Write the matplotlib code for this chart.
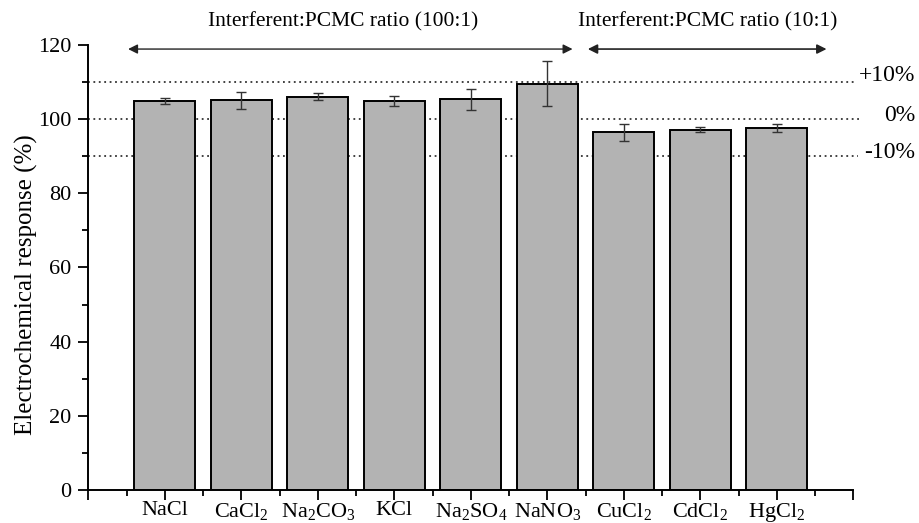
import matplotlib
matplotlib.use("Agg")
import matplotlib.pyplot as plt
import numpy as np
from matplotlib.ticker import FixedLocator, MultipleLocator

plt.rcParams['font.family'] = ['Liberation Serif', 'DejaVu Serif']
plt.rcParams['mathtext.fontset'] = 'custom'
plt.rcParams['mathtext.rm'] = 'Liberation Serif'
plt.rcParams['mathtext.it'] = 'Liberation Serif:italic'

categories = ['NaCl', r'CaCl$_\mathrm{2}$', r'Na$_\mathrm{2}$CO$_\mathrm{3}$', 'KCl',
              r'Na$_\mathrm{2}$SO$_\mathrm{4}$', r'NaNO$_\mathrm{3}$', r'CuCl$_\mathrm{2}$',
              r'CdCl$_\mathrm{2}$', r'HgCl$_\mathrm{2}$']
values = [104.9, 105.1, 106.1, 104.9, 105.3, 109.6, 96.4, 97.2, 97.7]
errors = [0.7, 2.3, 0.85, 1.35, 2.9, 6.0, 2.3, 0.7, 1.1]
ref_levels = [110, 100, 90]
ref_labels = ['+10%', '0%', '-10%']
group_labels = ['Interferent:PCMC ratio (100:1)', 'Interferent:PCMC ratio (10:1)']

fig = plt.figure(figsize=(9.19, 5.23), dpi=100)
ax = fig.add_axes([0.0961, 0.0631, 0.8324, 0.8509])

x = np.arange(len(categories))
ax.bar(x, values, width=0.8, color='#b3b3b3', edgecolor='black', linewidth=1.4, zorder=2)
ax.errorbar(x, values, yerr=errors, fmt='none', ecolor='#333333', elinewidth=1.0,
            capsize=3.5, capthick=1.0, zorder=3)

ax.set_xlim(-1, 9)
ax.set_ylim(0, 120)

# dotted reference lines
line_ends = [9.02, 9.1, 9.06]
label_y_off = [1.9, 1.1, 0.9]
for lvl, lab, xe, dy in zip(ref_levels, ref_labels, line_ends, label_y_off):
    ax.plot([-1, xe], [lvl, lvl], linestyle=(0, (1.0, 2.0)), color='#333333',
            linewidth=1.3, clip_on=False, zorder=1)
    ax.text(9.81, lvl + dy, lab, ha='right', va='center', fontsize=17, clip_on=False)

# arrows
arrow_y = 118.9
ax.annotate('', xy=(-0.48, arrow_y), xytext=(5.33, arrow_y),
            arrowprops=dict(arrowstyle='<|-|>', color='#222222', lw=1.0,
                            mutation_scale=14, shrinkA=0, shrinkB=0),
            annotation_clip=False)
ax.annotate('', xy=(5.53, arrow_y), xytext=(8.65, arrow_y),
            arrowprops=dict(arrowstyle='<|-|>', color='#222222', lw=1.2,
                            mutation_scale=14, shrinkA=0, shrinkB=0),
            annotation_clip=False)
ax.text(2.33, 126.2, group_labels[0], ha='center', va='center', fontsize=15.5)
ax.text(7.10, 126.2, group_labels[1], ha='center', va='center', fontsize=15.5)

# axes styling
for s in ['top', 'right']:
    ax.spines[s].set_visible(False)
for s in ['left', 'bottom']:
    ax.spines[s].set_linewidth(1.4)

ax.xaxis.set_major_locator(FixedLocator(np.arange(-1, 10)))
ax.set_xticklabels([''] + categories + [''])
ax.xaxis.set_minor_locator(FixedLocator(np.arange(-0.5, 9.0, 1.0)))
ax.yaxis.set_major_locator(MultipleLocator(20))
ax.yaxis.set_minor_locator(MultipleLocator(10))
ax.tick_params(axis='both', which='major', direction='out', length=7, width=1.3, labelsize=16)
ax.tick_params(axis='both', which='minor', direction='out', length=4, width=1.3)
ax.tick_params(axis='x', which='major', pad=1)
ax.tick_params(axis='y', which='major', pad=5)

ax.set_ylabel('Electrochemical response (%)', fontsize=18)
ax.yaxis.set_label_coords(-0.066, 0.462)

fig.savefig('out.png', dpi=100)
